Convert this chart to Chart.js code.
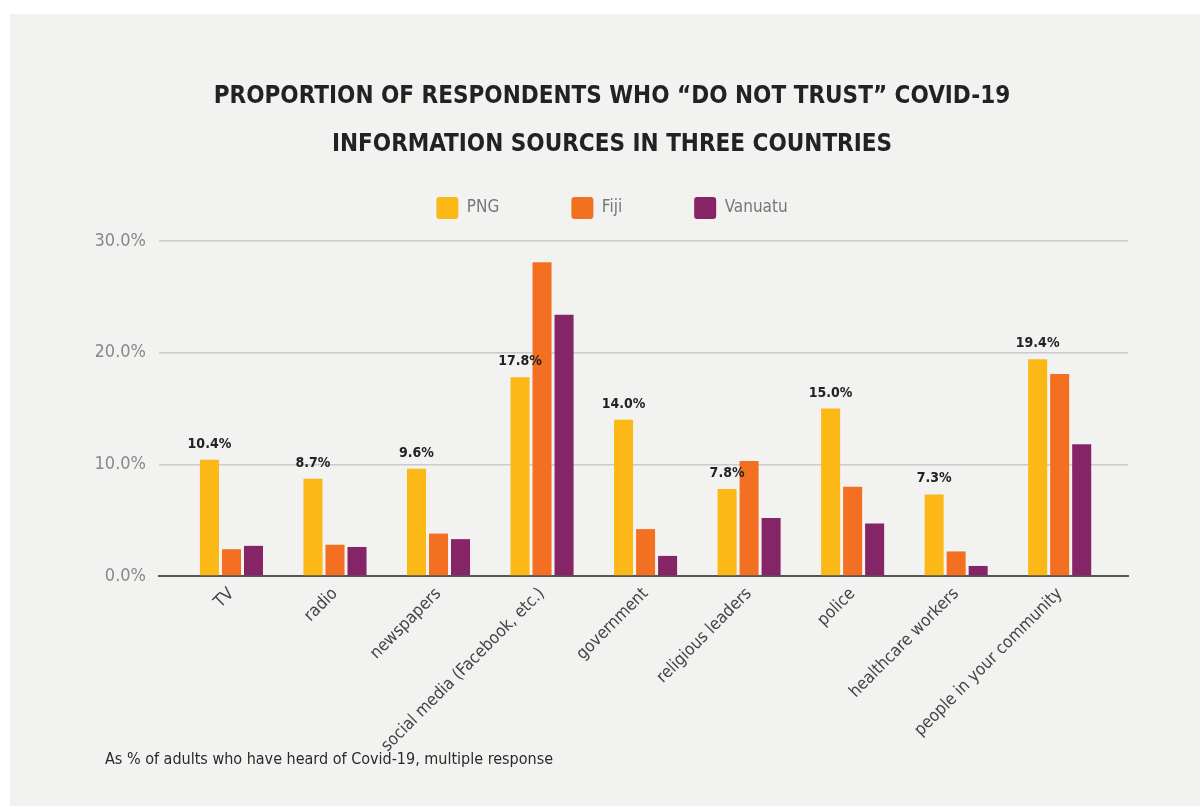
<!DOCTYPE html>
<html lang="en">
<head>
<meta charset="UTF-8">
<title>Do not trust Covid-19 information sources</title>
<script src="https://cdn.jsdelivr.net/npm/chart.js"></script>
<style>
  html, body { margin: 0; padding: 0; background: #fff; }
  .panel { position: absolute; left: 10px; top: 14px; width: 1190px; height: 792px; background: #f2f2f1; }
  .panel canvas { position: absolute; left: 0; top: 0; }
  .note { position: absolute; left: 95px; top: 735px; line-height: 20px; font: 16px 'DejaVu Sans Condensed', 'Liberation Sans Narrow', 'Roboto', sans-serif; color: #2a2a2a; }
</style>
</head>
<body>
<div class="panel">
  <canvas id="chart" width="1190" height="792"></canvas>
  <div class="note">As % of adults who have heard of Covid-19, multiple response</div>
</div>
<script>
const FONT = "'DejaVu Sans Condensed', 'Liberation Sans Narrow', 'Roboto', sans-serif";
const LEGEND_PAD = 72;

const sources = ['TV', 'radio', 'newspapers', 'social media (Facebook, etc.)', 'government',
  'religious leaders', 'police', 'healthcare workers', 'people in your community'];
const png     = [10.4, 8.7, 9.6, 17.8, 14.0, 7.8, 15.0, 7.3, 19.4];
const fiji    = [2.4, 2.8, 3.8, 28.1, 4.2, 10.3, 8.0, 2.2, 18.1];
const vanuatu = [2.7, 2.6, 3.3, 23.4, 1.8, 5.2, 4.7, 0.9, 11.8];
const yTicks  = [0, 10, 20, 30];

// value labels over the PNG bars only
const pngLabels = {
  id: 'pngLabels',
  afterDatasetsDraw(chart) {
    const ctx = chart.ctx;
    const meta = chart.getDatasetMeta(0);
    ctx.save();
    ctx.font = 'bold 14px ' + FONT;
    ctx.fillStyle = '#222';
    ctx.textAlign = 'center';
    ctx.textBaseline = 'alphabetic';
    meta.data.forEach((bar, i) => {
      ctx.fillText(png[i].toFixed(1) + '%', bar.x, bar.y - 12);
    });
    ctx.restore();
  }
};

// labels.padding spaces the legend items apart but also pads the box vertically,
// so keep the box short and pull the row back up under the title
const legendRow = {
  id: 'legendRow',
  beforeInit(chart) {
    const fit = chart.legend.fit;
    chart.legend.fit = function () {
      fit.call(this);
      this.height = 54;
    };
  },
  afterLayout(chart) {
    chart.legend.top -= LEGEND_PAD - 10;
  }
};

new Chart(document.getElementById('chart'), {
  type: 'bar',
  data: {
    labels: sources,
    datasets: [
      { label: 'PNG', data: png, backgroundColor: '#fcb817' },
      { label: 'Fiji', data: fiji, backgroundColor: '#f37022' },
      { label: 'Vanuatu', data: vanuatu, backgroundColor: '#862468' }
    ]
  },
  options: {
    responsive: false,
    animation: false,
    layout: { padding: { top: 0, right: 72, bottom: 0, left: 86 } },
    datasets: { bar: { categoryPercentage: 0.638, barPercentage: 0.864 } },
    plugins: {
      title: {
        display: true,
        text: ['PROPORTION OF RESPONDENTS WHO \u201CDO NOT TRUST\u201D COVID-19', 'INFORMATION SOURCES IN THREE COUNTRIES'],
        color: '#222',
        font: { family: FONT, size: 24, weight: 'bold', lineHeight: '48px' },
        padding: { top: 59, bottom: 18 }
      },
      legend: {
        labels: {
          color: '#777',
          font: { family: FONT, size: 17 },
          boxWidth: 22,
          boxHeight: 22,
          useBorderRadius: true,
          borderRadius: 3,
          padding: LEGEND_PAD
        }
      },
      tooltip: { enabled: false }
    },
    scales: {
      x: {
        grid: { display: false },
        border: { display: true, color: '#555', width: 2 },
        ticks: {
          color: '#444',
          font: { family: FONT, size: 17 },
          autoSkip: false,
          maxRotation: 45,
          minRotation: 45,
          padding: 0
        },
        // the axis line runs past the outer groups, so widen the value range a bit
        afterBuildTicks: (s) => { s._startValue -= 0.2; s._valueRange += 0.36; },
        afterFit: (s) => { s.height = 230; }
      },
      y: {
        min: 0,
        max: 30,
        afterBuildTicks: (s) => { s.ticks = yTicks.map(v => ({ value: v })); },
        grid: {
          color: (c) => c.tick && c.tick.value === 0 ? 'rgba(0,0,0,0)' : '#cacaca',
          lineWidth: 1.5,
          drawTicks: false
        },
        border: { display: false },
        ticks: {
          color: '#888',
          font: { family: FONT, size: 18 },
          padding: 13,
          callback: (v) => v.toFixed(1) + '%'
        },
        afterFit: (s) => { s.width = 149 - 86; }
      }
    }
  },
  plugins: [pngLabels, legendRow]
});
</script>
</body>
</html>
